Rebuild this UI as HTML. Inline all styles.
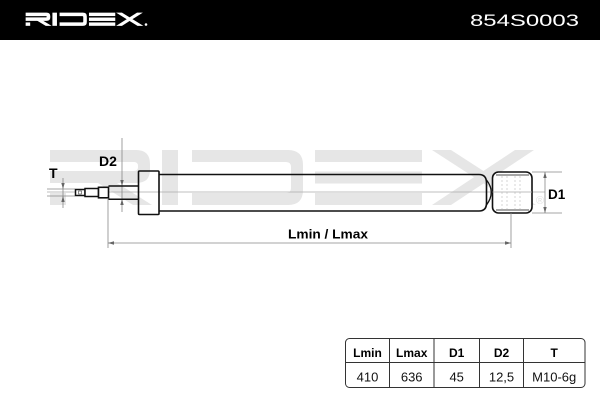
<!DOCTYPE html>
<html>
<head>
<meta charset="utf-8">
<style>
  html,body{margin:0;padding:0;background:#fff;}
  body{width:600px;height:400px;overflow:hidden;position:relative;font-family:"Liberation Sans",Arial,sans-serif;}
  svg{position:absolute;left:0;top:0;}
</style>
</head>
<body>
<svg width="600" height="400" viewBox="0 0 600 400" xmlns="http://www.w3.org/2000/svg">
  <defs>
    <g id="logo">
      <!-- R -->
      <path d="M50,150 H136 Q150,150 150,164 V170 Q150,183 136,183 H50 V171 H134 Q138,171 138,167 V166 Q138,162 134,162 H50 Z"/>
      <rect x="50" y="193" width="16" height="12"/>
      <polygon points="98,183 117,183 152,205 133,205"/>
      <!-- I -->
      <rect x="162" y="150" width="16" height="55"/>
      <!-- D -->
      <path d="M192,150 H288 Q303,150 303,165 V190 Q303,205 288,205 H192 V193 H286 Q291,193 291,188 V167 Q291,162 286,162 H192 Z"/>
      <!-- E -->
      <rect x="315" y="150" width="107" height="12"/>
      <rect x="315" y="171.5" width="107" height="12"/>
      <rect x="315" y="193" width="107" height="12"/>
      <!-- X -->
      <polygon points="432,150 451,150 536,205 517,205"/>
      <polygon points="534,150 515,150 432,205 451,205"/>
    </g>
  </defs>

  <!-- Header -->
  <rect x="0" y="0" width="600" height="40" fill="#000"/>
  <use href="#logo" fill="#fff" stroke="#fff" stroke-width="3" transform="translate(26,13) scale(0.239,0.227) translate(-50,-150)"/>
  <circle cx="146" cy="24.5" r="1.3" fill="#fff"/>
  <text x="470" y="26" font-size="16.5" fill="#fff" textLength="109" lengthAdjust="spacingAndGlyphs" font-family="Liberation Sans, sans-serif">854S0003</text>

  <!-- Watermark -->
  <use href="#logo" fill="#e6e6e6"/>
  <text x="536" y="204" font-size="11" fill="#e0e0e0" font-family="Liberation Sans, sans-serif">®</text>

  <!-- Center line -->
  <line x1="47" y1="192" x2="545" y2="192" stroke="#aaa" stroke-width="0.8"/>

  <!-- T dimension -->
  <line x1="47" y1="189" x2="75" y2="189" stroke="#888" stroke-width="0.7"/>
  <line x1="47" y1="196" x2="75" y2="196" stroke="#888" stroke-width="0.7"/>
  <line x1="63" y1="178" x2="63" y2="208" stroke="#888" stroke-width="0.8"/>
  <polygon points="63,189 61.3,183 64.7,183" fill="#666"/>
  <polygon points="63,196 61.3,202 64.7,202" fill="#666"/>
  <text x="49" y="178" font-size="14" font-weight="bold" fill="#000">T</text>

  <!-- D2 dimension -->
  <line x1="122" y1="138" x2="122" y2="212" stroke="#888" stroke-width="0.8"/>
  <polygon points="122,186 120.3,180 123.7,180" fill="#666"/>
  <polygon points="122,199 120.3,205 123.7,205" fill="#666"/>
  <text x="99" y="166" font-size="14" font-weight="bold" fill="#000">D2</text>

  <!-- Rod end pieces -->
  <rect x="75.5" y="189.5" width="9.5" height="6" fill="#fff" stroke="#111" stroke-width="1.5"/>
  <rect x="78.5" y="191" width="3" height="3" fill="none" stroke="#444" stroke-width="0.6"/>
  <rect x="85" y="188.5" width="13.5" height="8" fill="#fff" stroke="#111" stroke-width="1.5"/>
  <rect x="98.5" y="187.3" width="10" height="10.5" fill="#fff" stroke="#111" stroke-width="1.6"/>
  <!-- Rod -->
  <line x1="108.5" y1="186" x2="138" y2="186" stroke="#111" stroke-width="1.5"/>
  <line x1="108.5" y1="199.3" x2="138" y2="199.3" stroke="#111" stroke-width="1.5"/>

  <!-- Collar -->
  <rect x="138.5" y="171" width="20.5" height="43.5" rx="1" fill="none" stroke="#111" stroke-width="1.6"/>

  <!-- Body -->
  <path d="M159,174.5 H479 Q486.5,174.5 486.5,183 V203 Q486.5,211 479,211 H159" fill="none" stroke="#111" stroke-width="1.6"/>
  <path d="M486.5,180 Q496,192 486.5,205" fill="none" stroke="#111" stroke-width="1.3"/>

  <!-- Eye -->
  <rect x="492.5" y="172" width="39.5" height="41" rx="6" fill="#fff" stroke="#111" stroke-width="1.6"/>
  <line x1="496" y1="175" x2="529" y2="175" stroke="#111" stroke-width="0.8"/>
  <line x1="496" y1="210" x2="529" y2="210" stroke="#111" stroke-width="0.8"/>
  <g stroke="#aaa" stroke-width="0.5" stroke-dasharray="2,2">
    <line x1="502" y1="176" x2="502" y2="209"/>
    <line x1="507" y1="176" x2="507" y2="209"/>
    <line x1="515" y1="176" x2="515" y2="209"/>
    <line x1="520" y1="176" x2="520" y2="209"/>
  </g>
  <line x1="492.5" y1="192" x2="532" y2="192" stroke="#aaa" stroke-width="0.7"/>

  <!-- D1 dimension -->
  <line x1="532" y1="172" x2="562" y2="172" stroke="#888" stroke-width="0.7"/>
  <line x1="532" y1="213" x2="562" y2="213" stroke="#888" stroke-width="0.7"/>
  <line x1="545" y1="172" x2="545" y2="213" stroke="#888" stroke-width="0.8"/>
  <polygon points="545,172 543.3,178 546.7,178" fill="#666"/>
  <polygon points="545,213 543.3,207 546.7,207" fill="#666"/>
  <text x="548" y="199" font-size="13.5" font-weight="bold" fill="#000">D1</text>

  <!-- Lmin / Lmax dimension -->
  <line x1="108" y1="199" x2="108" y2="248" stroke="#888" stroke-width="0.8"/>
  <line x1="511" y1="213" x2="511" y2="248" stroke="#888" stroke-width="0.8"/>
  <line x1="108" y1="243" x2="511" y2="243" stroke="#888" stroke-width="0.8"/>
  <polygon points="108,243 114,241.3 114,244.7" fill="#666"/>
  <polygon points="511,243 505,241.3 505,244.7" fill="#666"/>
  <text x="288" y="238.5" font-size="13" font-weight="bold" fill="#000" textLength="80" lengthAdjust="spacingAndGlyphs">Lmin / Lmax</text>

  <!-- Table -->
  <rect x="345.5" y="338.5" width="239.5" height="49" rx="4" fill="#fff" stroke="#333" stroke-width="1"/>
  <g stroke="#333" stroke-width="1">
    <line x1="345.5" y1="362.5" x2="585" y2="362.5"/>
    <line x1="389.5" y1="338.5" x2="389.5" y2="387.5"/>
    <line x1="434" y1="338.5" x2="434" y2="387.5"/>
    <line x1="479.5" y1="338.5" x2="479.5" y2="387.5"/>
    <line x1="523.5" y1="338.5" x2="523.5" y2="387.5"/>
  </g>
  <g font-size="12" font-weight="bold" fill="#000" text-anchor="middle">
    <text x="367.5" y="357">Lmin</text>
    <text x="411.7" y="357">Lmax</text>
    <text x="456.7" y="357">D1</text>
    <text x="501.5" y="357">D2</text>
    <text x="554.2" y="357">T</text>
  </g>
  <g font-size="13" fill="#111" text-anchor="middle">
    <text x="367.5" y="381.5">410</text>
    <text x="411.7" y="381.5">636</text>
    <text x="456.7" y="381.5">45</text>
    <text x="501.5" y="381.5">12,5</text>
    <text x="554.2" y="381.5">M10-6g</text>
  </g>
</svg>
</body>
</html>
